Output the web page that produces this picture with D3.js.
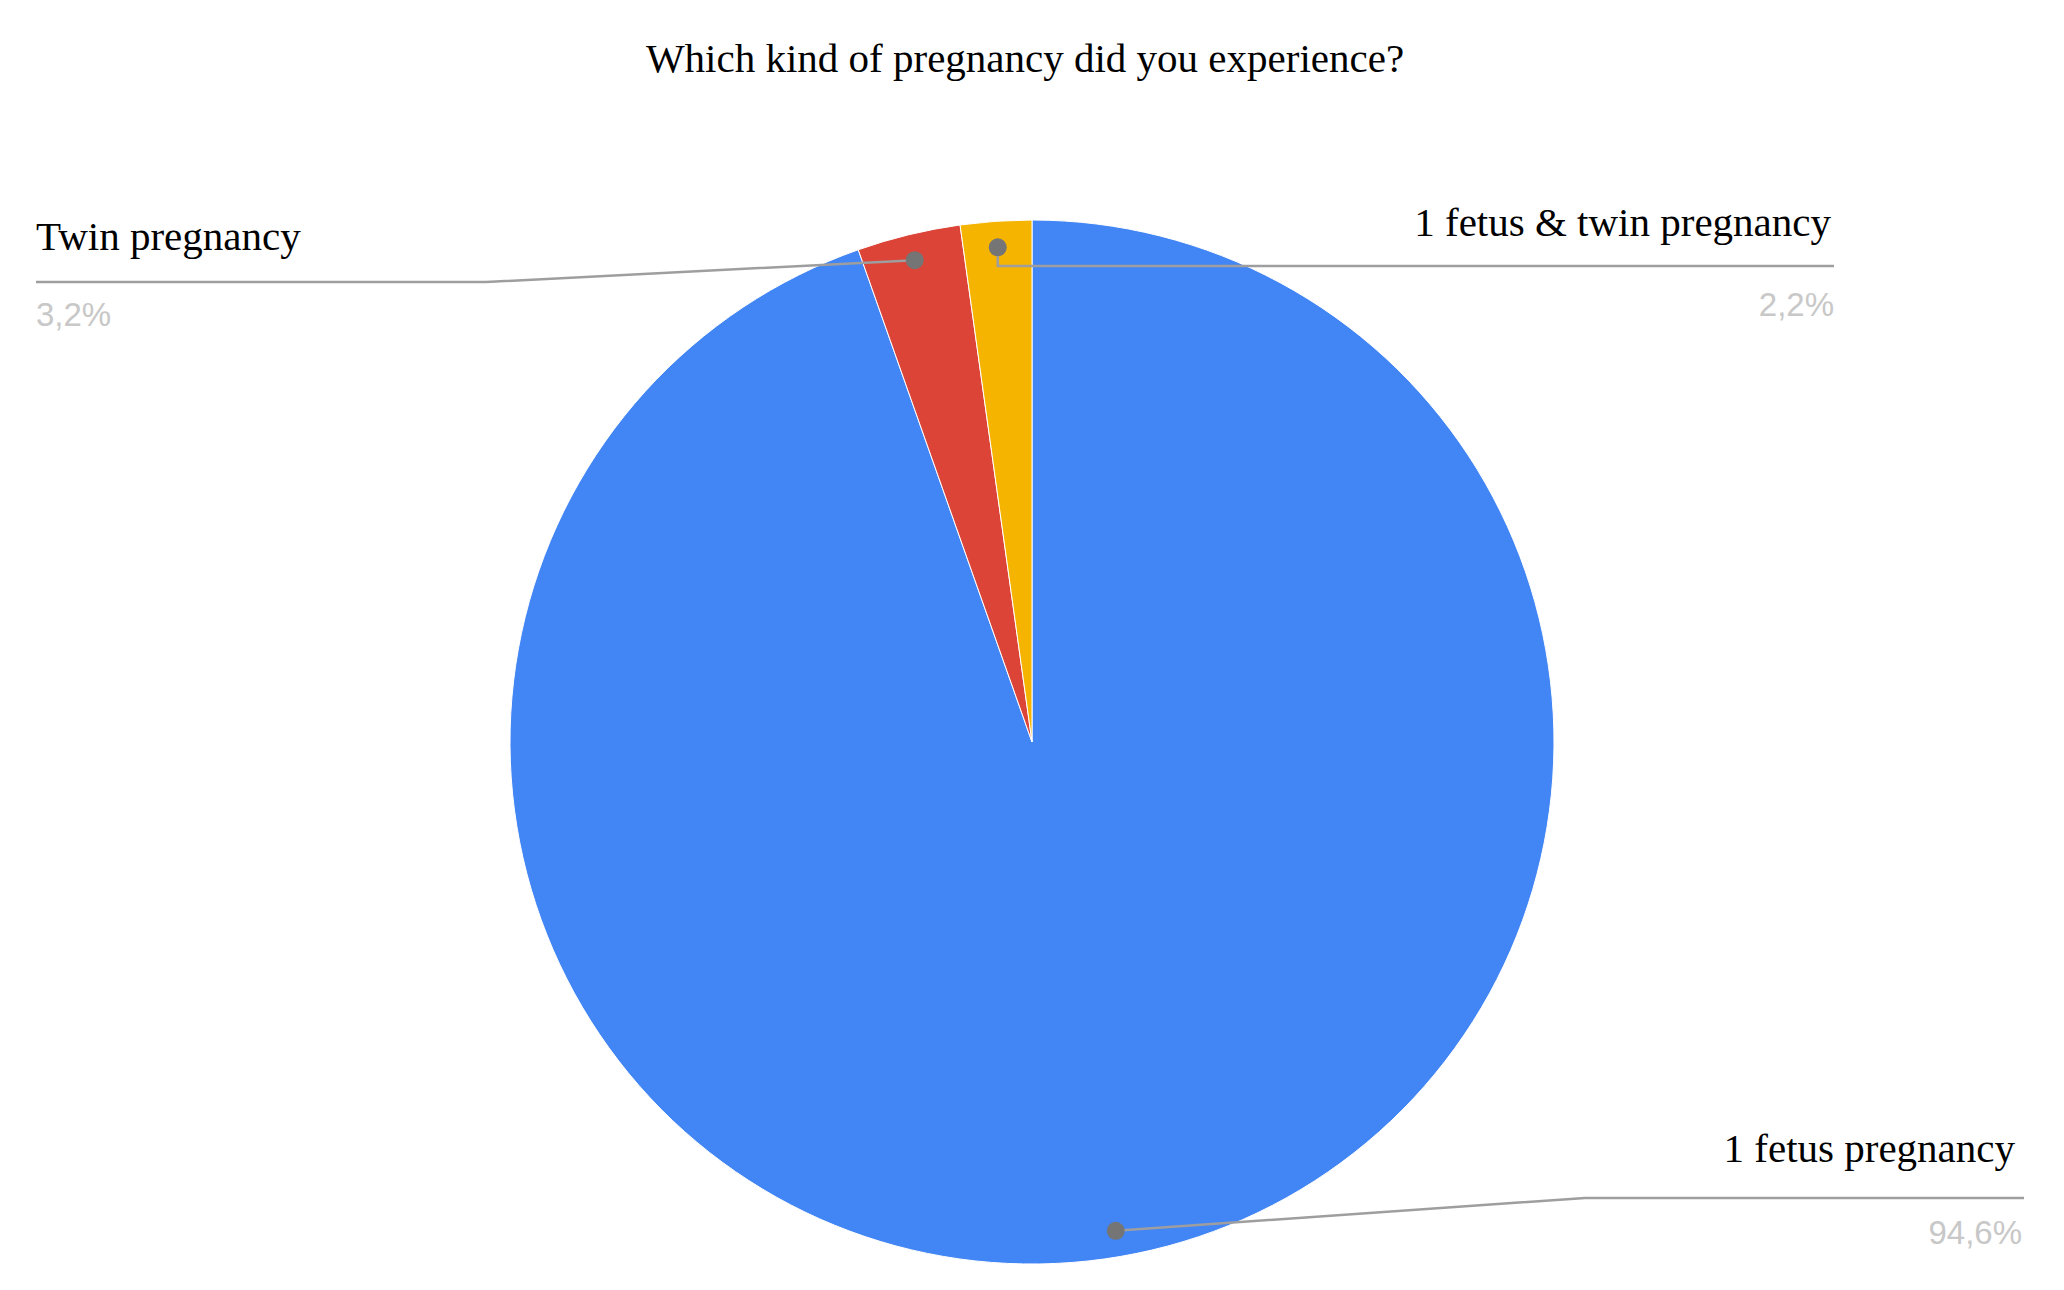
<!DOCTYPE html>
<html><head><meta charset="utf-8">
<script src="https://cdn.jsdelivr.net/npm/d3@7"></script>
<style>body{margin:0;background:#fff}</style></head>
<body><svg id="c" width="2064" height="1290"></svg>
<script>
const categories=["1 fetus pregnancy","Twin pregnancy","1 fetus & twin pregnancy"];
const values=[94.6,3.2,2.2];
const labels=["94,6%","3,2%","2,2%"];
const colors=["#4285F4","#DB4437","#F4B400"];
const svg=d3.select("#c");
const cx=1032,cy=742,R=522;
svg.append("text").attr("x",1025).attr("y",72).attr("text-anchor","middle")
 .attr("font-family","Liberation Serif").attr("font-size",41).text("Which kind of pregnancy did you experience?");
const pie=d3.pie().sort(null)(values);
const arc=d3.arc().innerRadius(0).outerRadius(R);
const g=svg.append("g").attr("transform",`translate(${cx},${cy})`);
g.selectAll("path").data(pie).join("path").attr("d",arc).attr("fill",(d,i)=>colors[i]).attr("stroke","#fff").attr("stroke-width",1);
const lab=[
 {tx:2015,ty:1162,anchor:"end",line:[[1585,1198],[2024,1198]],py:1244,px:2022},
 {tx:36,ty:250,anchor:"start",line:[[36,282],[486,282]],py:326,px:36},
 {tx:1831,ty:236,anchor:"end",line:[[1834,266]],py:316,px:1834}
];
pie.forEach((d,i)=>{
 const a=(d.startAngle+d.endAngle)/2, r=R*0.95;
 const dx=cx+Math.sin(a)*r, dy=cy-Math.cos(a)*r;
 const L=lab[i];
 let pts;
 if(i===0) pts=[[dx,dy],...L.line];
 else if(i===1) pts=[[dx,dy],L.line[1],L.line[0]];
 else pts=[[dx,dy],[dx,266],L.line[0]];
 svg.append("path").attr("d",d3.line()(pts)).attr("fill","none").attr("stroke","#9e9e9e").attr("stroke-width",2.5);
 svg.append("circle").attr("cx",dx).attr("cy",dy).attr("r",9).attr("fill","#757575");
 svg.append("text").attr("x",L.tx).attr("y",L.ty).attr("text-anchor",L.anchor)
  .attr("font-family","Liberation Serif").attr("font-size",41).text(categories[i]);
 svg.append("text").attr("x",L.px).attr("y",L.py).attr("text-anchor",L.anchor)
  .attr("font-family","Liberation Sans").attr("font-size",33).attr("fill","#c8c8c8").text(labels[i]);
});
</script></body></html>
